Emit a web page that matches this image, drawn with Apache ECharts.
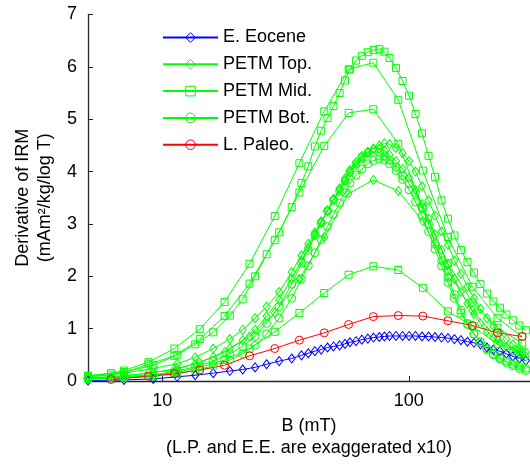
<!DOCTYPE html>
<html>
<head>
<meta charset="utf-8">
<script src="https://cdn.jsdelivr.net/npm/echarts@6/dist/echarts.min.js"></script>
<style>
  html, body { margin: 0; padding: 0; background: #fff; }
  #chart { width: 530px; height: 464px; }
</style>
</head>
<body>
<div id="chart"></div>
<script>
// Applied field steps (mT)
const fieldDense = [5, 7, 9.2, 11.5, 13.6, 16.1, 18.8, 21.2, 23.8, 26.5, 29.8, 33.5, 36.7, 39.1, 41.6,
  44.1, 46.8, 49.5, 52.4, 55.1, 57.7, 61.1, 64.5, 68.2, 71.9, 75.9, 79.6, 83.5, 88.7, 94.3, 100.2,
  106.4, 113.1, 120.2, 127.7, 135.7, 144.1, 153.1, 162.7, 172.9, 183.7, 195.1, 207.3, 220.3, 234.1,
  248.7, 264.2, 280.7, 298.3];
const fieldSparse = [5, 6.2, 7, 8.8, 11.2, 14.2, 17.9, 22.6, 28.6, 36, 45.4, 57, 71.8, 90.6, 114, 144, 181, 229, 288];
const fieldPaleo = [6.2, 8.8, 11.2, 14.2, 17.9, 22.6, 28.6, 36, 45.4, 57, 71.8, 90.6, 114, 144, 181, 229, 288];

// Derivative of IRM (mAm^2/kg/log T)
const eoceneE = [0.01, 0.02, 0.04, 0.08, 0.11, 0.15, 0.19, 0.22, 0.26, 0.32, 0.38, 0.43, 0.49, 0.53, 0.57,
  0.60, 0.64, 0.66, 0.68, 0.71, 0.74, 0.76, 0.79, 0.81, 0.83, 0.84, 0.85, 0.86, 0.86, 0.86, 0.86, 0.86,
  0.85, 0.85, 0.84, 0.83, 0.82, 0.80, 0.78, 0.75, 0.73, 0.70, 0.64, 0.60, 0.57, 0.52, 0.47, 0.43, 0.39];

const petmTopA = [0.08, 0.15, 0.24, 0.33, 0.45, 0.62, 0.8, 0.98, 1.2, 1.42, 1.7, 2.08, 2.4, 2.62, 2.84,
  3.05, 3.26, 3.46, 3.65, 3.83, 3.98, 4.12, 4.25, 4.36, 4.44, 4.5, 4.54, 4.52, 4.45, 4.35, 4.2, 4.0,
  3.72, 3.45, 3.16, 2.86, 2.6, 2.3, 2.05, 1.8, 1.58, 1.38, 1.2, 1.05, 0.92, 0.8, 0.7, 0.62, 0.55];
const petmTopB = [0.06, 0.1, 0.16, 0.24, 0.33, 0.46, 0.62, 0.78, 0.98, 1.24, 1.55, 1.95, 2.3, 2.55, 2.8,
  3.03, 3.25, 3.48, 3.68, 3.87, 4.03, 4.18, 4.3, 4.38, 4.43, 4.44, 4.4, 4.32, 4.2, 4.05, 3.88, 3.65,
  3.38, 3.1, 2.8, 2.5, 2.22, 1.95, 1.7, 1.48, 1.28, 1.1, 0.95, 0.83, 0.73, 0.65, 0.58, 0.52, 0.47];
const petmTopC = [0.05, 0.07, 0.09, 0.15, 0.22, 0.35, 0.55, 0.85, 1.3, 1.95, 2.75, 3.58, 3.84, 3.63, 3.05, 2.1, 1.35, 0.8, 0.5];

const petmMidA = [0.1, 0.17, 0.3, 0.5, 0.7, 0.93, 1.25, 1.56, 2.0, 2.42, 2.84, 3.32, 3.78, 4.1, 4.48,
  4.78, 5.02, 5.25, 5.5, 5.74, 5.95, 6.12, 6.21, 6.28, 6.32, 6.34, 6.29, 6.17, 5.98, 5.73, 5.45, 5.1,
  4.73, 4.3, 3.9, 3.45, 3.1, 2.78, 2.5, 2.27, 2.07, 1.85, 1.67, 1.52, 1.4, 1.27, 1.16, 1.06, 0.97];
const petmMidB = [0.1, 0.15, 0.2, 0.36, 0.62, 0.99, 1.51, 2.24, 3.15, 4.16, 5.15, 5.95, 6.08, 5.37, 4.02, 2.75, 1.8, 1.2, 0.85];
const petmMidC = [0.08, 0.12, 0.16, 0.32, 0.48, 0.8, 1.24, 1.86, 2.69, 3.6, 4.49, 5.12, 5.19, 4.53, 3.3, 2.25, 1.5, 1.02, 0.72];
const petmMidD = [0.05, 0.06, 0.07, 0.1, 0.16, 0.26, 0.4, 0.62, 0.94, 1.3, 1.68, 2.03, 2.19, 2.12, 1.78, 1.33, 1.05, 0.7, 0.55];

const petmBotA = [0.05, 0.08, 0.12, 0.19, 0.27, 0.38, 0.52, 0.66, 0.85, 1.1, 1.42, 1.85, 2.25, 2.5, 2.78,
  3.02, 3.25, 3.45, 3.62, 3.82, 4.0, 4.15, 4.28, 4.35, 4.38, 4.37, 4.3, 4.22, 4.08, 3.92, 3.77, 3.6,
  3.32, 3.0, 2.62, 2.3, 1.98, 1.65, 1.35, 1.1, 0.9, 0.75, 0.62, 0.52, 0.45, 0.38, 0.32, 0.28, 0.24];
const petmBotB = [0.04, 0.06, 0.09, 0.14, 0.2, 0.29, 0.4, 0.52, 0.68, 0.9, 1.2, 1.58, 1.95, 2.2, 2.45,
  2.7, 2.95, 3.18, 3.4, 3.6, 3.78, 3.93, 4.05, 4.15, 4.21, 4.24, 4.22, 4.15, 4.02, 3.85, 3.65, 3.42,
  3.15, 2.85, 2.52, 2.2, 1.88, 1.58, 1.3, 1.08, 0.9, 0.74, 0.6, 0.5, 0.42, 0.35, 0.29, 0.24, 0.2];

const paleoL = [0.03, 0.09, 0.14, 0.21, 0.30, 0.48, 0.62, 0.78, 0.92, 1.08, 1.23, 1.25, 1.24, 1.15, 1.06, 0.92, 0.85];

const legendNames = ['E. Eocene', 'PETM Top.', 'PETM Mid.', 'PETM Bot.', 'L. Paleo.'];
const xTickValues = [10, 100];

const FONT = 'Liberation Sans, Arial, Helvetica, sans-serif';
const FONT_SIZE = 18;
const AXIS_COLOR = '#262626';
const BLUE = '#0000ff', GREEN = '#00ff00', RED = '#ff0000';
const HOLLOW = 'rgba(255,255,255,0)';

const markers = {
  diamond: { symbol: 'diamond', symbolSize: [7, 9] },
  square: { symbol: 'rect', symbolSize: 7 },
  circle: { symbol: 'circle', symbolSize: 8 }
};

function pairs(field, values) {
  return field.map((b, i) => [b, values[i]]);
}

function curve(name, field, values, color, marker) {
  return {
    type: 'line',
    name: name,
    data: pairs(field, values),
    symbol: markers[marker].symbol,
    symbolSize: markers[marker].symbolSize,
    showAllSymbol: true,
    lineStyle: { color: color, width: 1 },
    itemStyle: { color: HOLLOW, borderColor: color, borderWidth: 1 },
    emphasis: { disabled: true },
    animation: false
  };
}

const series = [
  curve('E. Eocene', fieldDense, eoceneE, BLUE, 'diamond'),
  curve('PETM Top.', fieldDense, petmTopA, GREEN, 'diamond'),
  curve('PETM Top.', fieldDense, petmTopB, GREEN, 'diamond'),
  curve('PETM Top.', fieldSparse, petmTopC, GREEN, 'diamond'),
  curve('PETM Mid.', fieldDense, petmMidA, GREEN, 'square'),
  curve('PETM Mid.', fieldSparse, petmMidB, GREEN, 'square'),
  curve('PETM Mid.', fieldSparse, petmMidC, GREEN, 'square'),
  curve('PETM Mid.', fieldSparse, petmMidD, GREEN, 'square'),
  curve('PETM Bot.', fieldDense, petmBotA, GREEN, 'circle'),
  curve('PETM Bot.', fieldDense, petmBotB, GREEN, 'circle'),
  curve('L. Paleo.', fieldPaleo, paleoL, RED, 'circle')
];

const chart = echarts.init(document.getElementById('chart'), null, { renderer: 'canvas' });
chart.setOption({
  backgroundColor: '#fff',
  animation: false,
  grid: { left: 88, right: 0, top: 14.5, bottom: 82.3, containLabel: false },
  legend: {
    data: legendNames,
    orient: 'vertical',
    left: 157,
    top: 23.5,
    itemWidth: 55,
    itemHeight: 12,
    itemGap: 8.8,
    selectedMode: false,
    itemStyle: { color: HOLLOW, borderWidth: 1 },
    textStyle: { fontFamily: FONT, fontSize: FONT_SIZE, color: '#000' }
  },
  xAxis: {
    type: 'log',
    logBase: 10,
    min: 5,
    max: 310,
    name: 'B (mT)\n(L.P. and E.E. are exaggerated x10)',
    nameLocation: 'middle',
    nameGap: 34,
    nameTextStyle: { fontFamily: FONT, fontSize: FONT_SIZE, color: '#000', lineHeight: 22 },
    axisLine: { show: true, lineStyle: { color: AXIS_COLOR, width: 1.3 } },
    axisTick: { show: true, inside: true, length: 5, customValues: xTickValues, lineStyle: { color: AXIS_COLOR, width: 1 } },
    minorTick: { show: false },
    axisLabel: { customValues: xTickValues, fontFamily: FONT, fontSize: FONT_SIZE, color: '#000', margin: 11 },
    splitLine: { show: false },
    minorSplitLine: { show: false }
  },
  yAxis: {
    type: 'value',
    min: 0,
    max: 7,
    interval: 1,
    name: 'Derivative of IRM\n(mAm²/kg/log T)',
    nameLocation: 'middle',
    nameGap: 29,
    nameRotate: 90,
    nameTextStyle: { fontFamily: FONT, fontSize: FONT_SIZE, color: '#000', lineHeight: 22 },
    axisLine: { show: true, lineStyle: { color: AXIS_COLOR, width: 1.3 } },
    axisTick: { show: true, inside: true, length: 5, lineStyle: { color: AXIS_COLOR, width: 1 } },
    axisLabel: { fontFamily: FONT, fontSize: FONT_SIZE, color: '#000', margin: 11 },
    splitLine: { show: false }
  },
  series: series
});
</script>
</body>
</html>
